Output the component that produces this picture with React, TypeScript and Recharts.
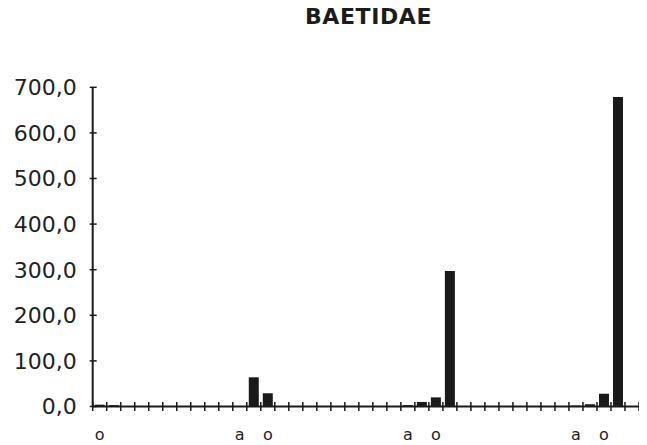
import {Bar, BarChart, XAxis, YAxis} from 'recharts';

// 40 sampling slots, labelled only where the original chart labels them
const slotLabels = [
  'o', '', '', '', '', '', '', '', '', '',
  'a', '', 'o', '', '', '', '', '', '', '',
  '', '', 'a', '', 'o', '', '', '', '', '',
  '', '', '', '', 'a', '', 'o', '', '', '',
];

const baetidae = [
  4, 3, 0, 0, 0, 0, 0, 0, 0, 0,
  0, 64, 29, 0, 0, 0, 0, 0, 0, 0,
  0, 0, 3, 10, 20, 297, 0, 0, 0, 0,
  0, 0, 0, 0, 2, 5, 28, 679, 0, 0,
];

const yTicks = [0, 100, 200, 300, 400, 500, 600, 700];

const data = slotLabels.map((label, i) => ({slot: i, label, value: baetidae[i]}));

const BOX_W = 639;
const W = 645; // last slot runs past the right edge, as in the scan
const H = 437;
const Y_AXIS_W = 84.7;
const X_AXIS_H = 38.5;
const TOP = 79.3;
const STEP = (W - Y_AXIS_W) / slotLabels.length;
const INK = '#1a1a1a';
const FONT = '"DejaVu Sans", sans-serif';

function YTick({x, y, payload}: any) {
  return (
    <g>
      <line x1={Y_AXIS_W - 3} x2={Y_AXIS_W + 4} y1={y} y2={y} stroke={INK} strokeWidth={1.5} />
      <text x={x} y={y} dy="0.36em" textAnchor="end" fill="#222" fontSize={22} fontFamily={FONT}>
        {Number(payload.value).toFixed(1).replace('.', ',')}
      </text>
    </g>
  );
}

function XTick({x, y, payload}: any) {
  const label = slotLabels[payload.value];
  return (
    <g>
      <line x1={x - STEP / 2} x2={x - STEP / 2} y1={y - 4.5} y2={y + 4.5} stroke={INK} strokeWidth={1.5} />
      {label ? (
        <text x={x} y={y + 33} textAnchor="middle" fill="#222" fontSize={16} fontFamily={FONT}>
          {label}
        </text>
      ) : null}
    </g>
  );
}

export default function App() {
  return (
    <div style={{position: 'relative', width: BOX_W, height: H, background: '#fff'}}>
      <div style={{width: BOX_W, height: H, overflow: 'hidden'}}>
        <BarChart width={W} height={H} data={data} margin={{top: TOP, right: 0, bottom: 0, left: 0}} barSize={10}>
          <XAxis
            dataKey="slot"
            type="category"
            height={X_AXIS_H}
            interval={0}
            tickSize={0}
            tickMargin={0}
            tickLine={false}
            axisLine={{stroke: INK, strokeWidth: 2}}
            tick={<XTick />}
          />
          <YAxis
            width={Y_AXIS_W}
            domain={[0, 700]}
            ticks={yTicks}
            interval={0}
            tickSize={0}
            tickMargin={16}
            tickLine={false}
            axisLine={{stroke: INK, strokeWidth: 2}}
            tick={<YTick />}
          />
          <Bar dataKey="value" fill={INK} isAnimationActive={false} />
        </BarChart>
      </div>
      <div
        style={{
          position: 'absolute',
          top: -4,
          left: 360.5,
          transform: 'translateX(-50%)',
          fontFamily: FONT,
          fontWeight: 'bold',
          fontSize: 22,
          letterSpacing: 0.6,
          color: '#1c1c1c',
          whiteSpace: 'nowrap',
        }}
      >
        BAETIDAE
      </div>
    </div>
  );
}
